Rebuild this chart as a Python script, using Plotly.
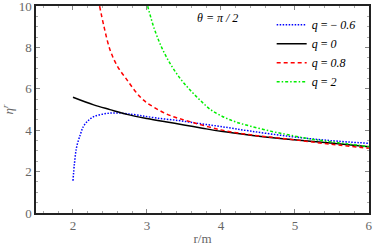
import plotly.graph_objects as go

# q = -0.6
x_blue = [2.0, 2.02, 2.05, 2.1, 2.14, 2.2, 2.28, 2.4, 2.5, 2.6, 2.73, 2.9, 3.13, 3.43, 3.7, 4.0, 4.4, 4.94, 5.48, 6.0]
y_blue = [1.56, 2.4, 3.2, 3.8, 4.18, 4.45, 4.66, 4.78, 4.83, 4.84, 4.8, 4.72, 4.59, 4.47, 4.33, 4.18, 3.96, 3.7, 3.5, 3.37]
# q = 0
x_black = [2.0, 2.28, 2.5, 2.73, 3.0, 3.25, 3.5, 3.75, 4.0, 4.4, 4.8, 5.48, 6.0]
y_black = [5.6, 5.23, 5.0, 4.77, 4.57, 4.41, 4.26, 4.1, 3.95, 3.76, 3.6, 3.38, 3.2]
# q = 0.8
x_red = [2.36, 2.42, 2.5, 2.6, 2.73, 2.85, 2.95, 3.1, 3.31, 3.58, 4.0, 4.4, 4.8, 5.48, 6.0]
y_red = [10.0, 9.0, 7.9, 7.1, 6.44, 5.85, 5.47, 5.1, 4.72, 4.42, 4.02, 3.78, 3.62, 3.33, 3.13]
# q = 2
x_green = [3.01, 3.1, 3.2, 3.31, 3.45, 3.58, 3.72, 3.86, 4.05, 4.22, 4.4, 4.67, 4.94, 5.21, 5.48, 6.0]
y_green = [10.0, 8.9, 8.0, 7.25, 6.5, 5.96, 5.45, 5.0, 4.62, 4.38, 4.2, 3.96, 3.76, 3.58, 3.45, 3.21]

names = ["<i>q</i> = \u2212 <i>0.6</i>", "<i>q</i> = <i>0</i>", "<i>q</i> = <i>0.8</i>", "<i>q</i> = <i>2</i>"]
serif = "'Liberation Serif', 'Times New Roman', 'DejaVu Serif', serif"

fig = go.Figure()
fig.add_trace(go.Scatter(x=x_blue, y=y_blue, mode="lines", name=names[0], line=dict(color="#0000ff", width=1.5, dash="1.5px,1.5px", shape="spline")))
fig.add_trace(go.Scatter(x=x_black, y=y_black, mode="lines", name=names[1], line=dict(color="#000000", width=1.5, shape="spline")))
fig.add_trace(go.Scatter(x=x_red, y=y_red, mode="lines", name=names[2], line=dict(color="#ff0000", width=1.5, dash="4px,3px", shape="spline")))
fig.add_trace(go.Scatter(x=x_green, y=y_green, mode="lines", name=names[3], line=dict(color="#00ee00", width=1.5, dash="3px,2px,1.5px,2px", shape="spline")))

axis_common = dict(
    showgrid=False, zeroline=False, showline=True, linecolor="#222222", linewidth=1.5,
    mirror="allticks", ticks="inside", ticklen=4, tickcolor="#888888",
    tickfont=dict(family=serif, size=13, color="#666666"), automargin=False,
    ticklabeloverflow="allow",
)
fig.update_xaxes(range=[1.5, 6.002], tickvals=[2, 3, 4, 5, 6],
                 minor=dict(dtick=0.2, ticks="inside", ticklen=2, tickcolor="#aaaaaa"),
                 title=dict(text="r/m", font=dict(family=serif, size=13, color="#666666"), standoff=2),
                 **axis_common)
fig.update_yaxes(range=[0, 10.01], tickvals=[0, 2, 4, 6, 8, 10],
                 minor=dict(dtick=0.5, ticks="inside", ticklen=2, tickcolor="#aaaaaa"),
                 title=dict(text="<i>\u03b7<sup>r</sup></i>", font=dict(family=serif, size=13, color="#666666"), standoff=2),
                 **axis_common)

fig.add_annotation(x=3.95, y=9.45, xref="x", yref="y", text="<i>\u03b8 = \u03c0 / 2</i>",
                   showarrow=False, font=dict(family=serif, size=12, color="#000000"))

fig.update_layout(
    width=374, height=250,
    margin=dict(l=36, r=5, t=6, b=37),
    plot_bgcolor="white", paper_bgcolor="white",
    showlegend=True,
    legend=dict(x=0.975, y=0.98, xanchor="right", yanchor="top", bgcolor="rgba(0,0,0,0)",
                font=dict(family=serif, size=12, color="#000000"), itemwidth=30,
                tracegroupgap=0),
)
fig.write_html("out.html", config={"displayModeBar": False},
               post_script="document.body.style.margin='0';document.body.style.padding='0';")
